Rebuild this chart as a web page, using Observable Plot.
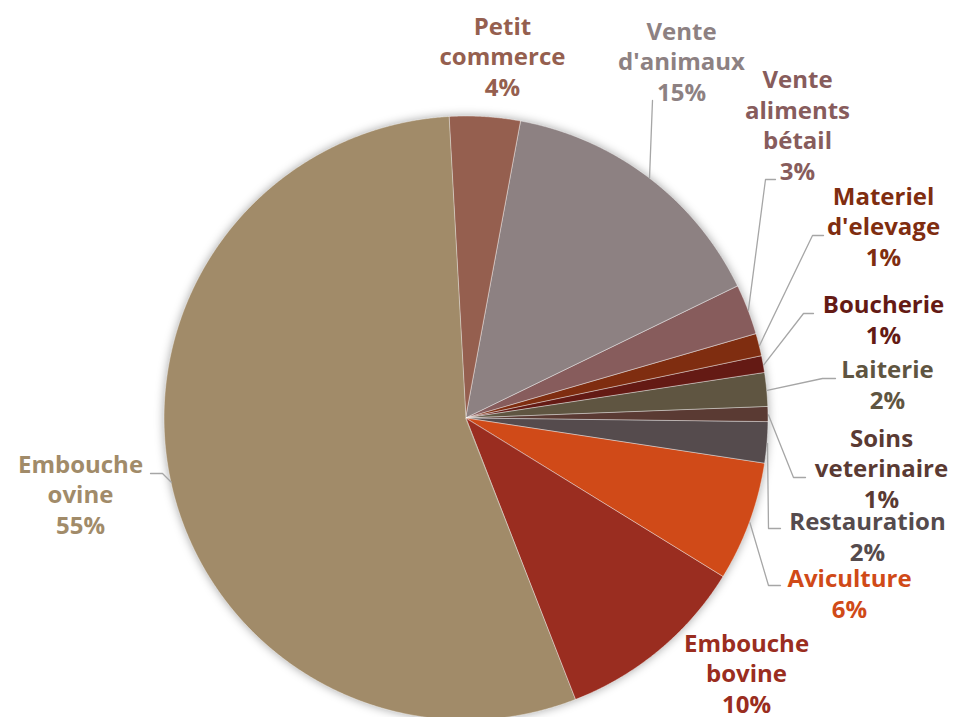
<!DOCTYPE html>
<html>
<head>
<meta charset="utf-8">
<script src="https://cdn.jsdelivr.net/npm/d3@7"></script>
<script src="https://cdn.jsdelivr.net/npm/@observablehq/plot@0.6"></script>
<style>
  html, body { margin: 0; padding: 0; background: #fff; overflow: hidden; }
  #chart svg g[aria-label="area"] { filter: drop-shadow(0 0 5px rgba(0,0,0,0.35)); }
</style>
</head>
<body>
<div id="chart"></div>
<script>
// ---- Data (clockwise from 12 o'clock) ----
const categories = ["Petit commerce", "Vente d'animaux", "Vente aliments bétail", "Materiel d'elevage",
  "Boucherie", "Laiterie", "Soins veterinaire", "Restauration", "Aviculture", "Embouche bovine", "Embouche ovine"];
const labelLines = [["Petit", "commerce"], ["Vente", "d'animaux"], ["Vente", "aliments", "bétail"],
  ["Materiel", "d'elevage"], ["Boucherie"], ["Laiterie"], ["Soins", "veterinaire"], ["Restauration"],
  ["Aviculture"], ["Embouche", "bovine"], ["Embouche", "ovine"]];
const values = [3.8, 14.9, 2.7, 1.2, 0.9, 1.8, 0.8, 2.2, 6.4, 10.3, 55.0];
const colors = ["#955F4F", "#8D8182", "#875C5C", "#7F2D10", "#641A14", "#5F5541", "#5A3A33",
  "#554B4D", "#D04A18", "#9A2D20", "#A18B69"];

// ---- Layout (chart units, relative to pie centre) ----
const R = 302;
const startDeg = -3.2;
const labelPos = [[36, -323], [215, -318], [331, -239], [417, -153], [417, -75], [421, -10],
  [415, 89], [401, 142], [383, 199], [280, 294], [-386, 115]];
// leader polylines from slice edge: intermediate/end points (null = no leader)
const leaderPts = [null, [[186, -318]], [[299, -239], [309, -239]], [[346, -183], [357, -183]],
  [[337, -105], [347, -105]], [[356, -40], [369, -40]], [[327, 59], [339, 59]],
  [[302, 110], [314, 110]], [[302, 167], [314, 167]], null, [[-304, 55], [-316, 55]]];

const total = d3.sum(values);
const start = startDeg * Math.PI / 180;
const arcs = d3.pie().sort(null).startAngle(start).endAngle(start + 2 * Math.PI)(values);

const slicePts = [];
arcs.forEach((a, i) => {
  const n = Math.max(2, Math.ceil((a.endAngle - a.startAngle) / (Math.PI / 720)));
  for (let k = 0; k <= n; k++) {
    const t = a.startAngle + (a.endAngle - a.startAngle) * k / n;
    slicePts.push({name: categories[i], x1: 0, y1: 0, x2: R * Math.sin(t), y2: -R * Math.cos(t)});
  }
});

const labels = categories.map((c, i) => ({
  name: c,
  x: labelPos[i][0],
  y: labelPos[i][1],
  text: labelLines[i].join("\n") + "\n" + Math.round(values[i] / total * 100) + "%"
}));

const leaders = [];
arcs.forEach((a, i) => {
  if (!leaderPts[i]) return;
  const mid = (a.startAngle + a.endAngle) / 2;
  leaders.push({name: categories[i], x: R * Math.sin(mid), y: -R * Math.cos(mid)});
  leaderPts[i].forEach(p => leaders.push({name: categories[i], x: p[0], y: p[1]}));
});

const chart = Plot.plot({
  width: 953,
  height: 717,
  margin: 0,
  x: {domain: [-466, 487], axis: null},
  y: {domain: [-418, 299], range: [0, 717], axis: null},
  color: {domain: categories, range: colors},
  marks: [
    Plot.area(slicePts, {x1: "x1", y1: "y1", x2: "x2", y2: "y2", z: "name", fill: "name",
      stroke: "white", strokeWidth: 0.6, strokeOpacity: 0.7}),
    Plot.line(leaders, {x: "x", y: "y", z: "name", stroke: "#A6A6A6", strokeWidth: 1.3}),
    Plot.text(labels, {x: "x", y: "y", text: "text", fill: "name", fontSize: 24, fontWeight: "bold",
      fontFamily: "Open Sans", lineHeight: 1.27, lineAnchor: "bottom", textAnchor: "middle"})
  ]
});
document.getElementById("chart").appendChild(chart);
</script>
</body>
</html>
